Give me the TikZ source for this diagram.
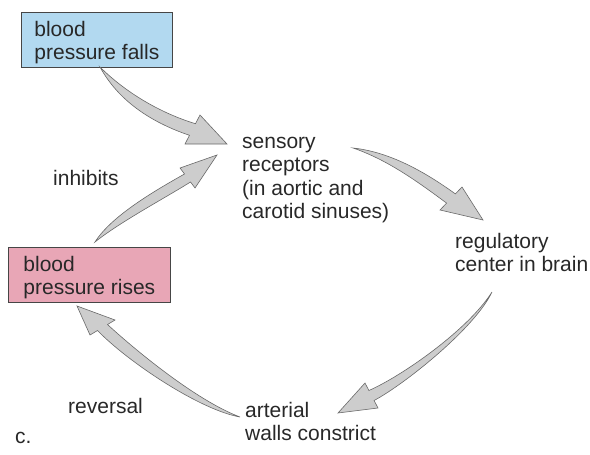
\documentclass[tikz,border=0pt]{standalone}
\usepackage{fontspec}
\setmainfont{Liberation Sans}
\definecolor{bluefill}{RGB}{178,217,240}
\definecolor{pinkfill}{RGB}{232,166,182}
\definecolor{boxline}{RGB}{70,70,70}
\definecolor{arrfill}{RGB}{205,205,205}
\definecolor{arrline}{RGB}{105,105,105}
\definecolor{txt}{RGB}{40,40,40}
\tikzset{
  every node/.style={font=\fontsize{21}{23.5}\selectfont, text=txt, inner sep=0pt},
  lbl/.style={anchor=north west, align=left},
  statebox/.style={draw=boxline, line width=0.7pt, anchor=north west, align=left,
    inner xsep=11pt, minimum height=55pt, text depth=0pt},
  fatarrow/.style={fill=arrfill, draw=arrline, line width=0.6pt, line join=miter},
}
\begin{document}
\begin{tikzpicture}[x=1pt,y=-1pt]
\useasboundingbox (0,0) rectangle (590,455);
% boxes
\node[statebox, fill=bluefill, minimum width=151pt] (falls) at (21,12)
  {\strut blood\\pressure falls\strut};
\node[statebox, fill=pinkfill, minimum width=162pt, inner xsep=13pt] (rises) at (8,247)
  {\strut blood\\pressure rises\strut};
% texts
\node[lbl] (sens) at (242,131.5) {\strut sensory\\receptors\\(in aortic and\\carotid sinuses)};
\node[lbl] (reg) at (455,231.5) {\strut regulatory\\center in brain};
\node[lbl] (art) at (245,400.5) {\strut arterial\\walls constrict};
\node[anchor=base west] (inh) at (53,185) {inhibits};
\node[anchor=base west] (rev) at (68,413) {reversal};
\node[anchor=base west] (c) at (15,443) {c.};
% arrow 1: falls -> sensory
\coordinate (a1t) at (100,67);
\coordinate (a1p) at (227,144);
\draw[fatarrow] (a1t) .. controls (125,92) and (160,113) .. (195.5,123.7)
  -- (200,115) -- (a1p) -- (185,144) -- (189.5,135.3)
  .. controls (150,122) and (118,100) .. (a1t) -- cycle;
% arrow 2: rises -> sensory (inhibits)
\coordinate (a2t) at (95,242);
\coordinate (a2p) at (217,155);
\draw[fatarrow] (a2t) .. controls (112,215) and (158,189) .. (184.5,174)
  -- (180,168) -- (a2p) -- (195,188) -- (190.5,182)
  .. controls (165,198) and (120,222) .. (a2t) -- cycle;
% arrow 3: sensory -> regulatory
\coordinate (a3t) at (353,148);
\coordinate (a3p) at (483,220);
\draw[fatarrow] (a3t) .. controls (390,152) and (425,172) .. (455.4,193.9)
  -- (462,187) -- (a3p) -- (440,210) -- (446.6,203.1)
  .. controls (418,182) and (388,160) .. (a3t) -- cycle;
% arrow 4: regulatory -> arterial
\coordinate (a4t) at (492,292);
\coordinate (a4p) at (338,413);
\draw[fatarrow] (a4t) .. controls (468,330) and (402,376) .. (368.9,390.5)
  -- (365,383) -- (a4p) -- (378,408) -- (374.1,400.5)
  .. controls (405,384) and (475,328) .. (a4t) -- cycle;
% arrow 5: arterial -> rises (reversal)
\coordinate (a5t) at (240,417);
\coordinate (a5p) at (77,306);
\draw[fatarrow] (a5t) .. controls (200,410) and (128,362) .. (97.5,330.5)
  -- (90,335) -- (a5p) -- (115,320) -- (107.5,324.5)
  .. controls (133,348) and (195,400) .. (a5t) -- cycle;
\end{tikzpicture}
\end{document}
